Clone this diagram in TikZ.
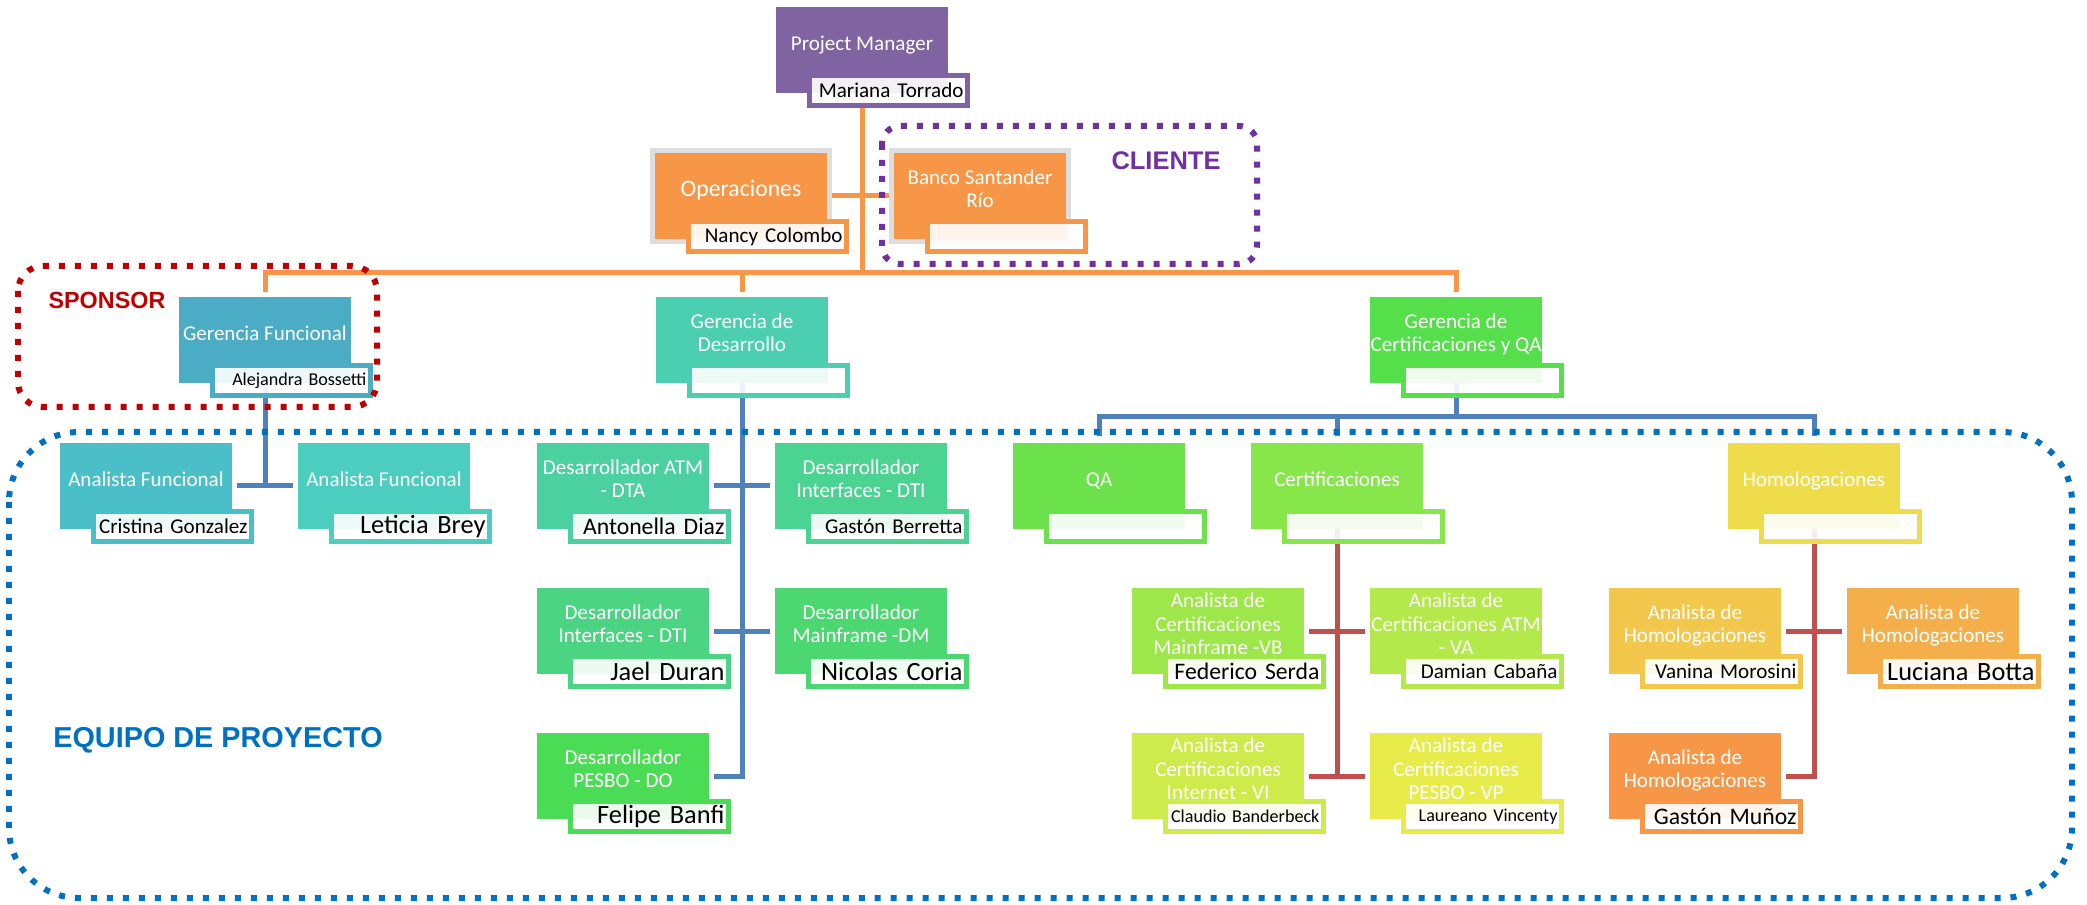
\documentclass[tikz,border=0pt]{standalone}
\usepackage{fontspec}
\setmainfont{Carlito}
\newfontfamily\tagfont{Liberation Sans}
\usepackage{xcolor}
\usepackage{tikz}
\usetikzlibrary{positioning, calc, backgrounds}
\definecolor{pmpurple}{HTML}{8064A2}
\definecolor{opsorange}{HTML}{F79646}
\definecolor{linkorange}{HTML}{F79646}
\definecolor{linkblue}{HTML}{4F81BD}
\definecolor{linkred}{HTML}{C0504D}
\definecolor{teamblue}{HTML}{0070C0}
\definecolor{sponsorred}{HTML}{C00000}
\definecolor{clientpurple}{HTML}{7030A0}
\definecolor{shadowgray}{HTML}{DEDEDE}
\definecolor{gfblue}{HTML}{4BACC6}
\definecolor{afone}{HTML}{4BBFC7}
\definecolor{aftwo}{HTML}{4BCDC0}
\definecolor{gdmint}{HTML}{4BCFB0}
\definecolor{devone}{HTML}{4BD19F}
\definecolor{devtwo}{HTML}{4BD392}
\definecolor{devthree}{HTML}{4BD482}
\definecolor{devfour}{HTML}{4BD870}
\definecolor{devfive}{HTML}{4BDC55}
\definecolor{gcgreen}{HTML}{55DF4B}
\definecolor{qagreen}{HTML}{6BE24B}
\definecolor{certgreen}{HTML}{86E64A}
\definecolor{acone}{HTML}{9DE74A}
\definecolor{actwo}{HTML}{B3E94B}
\definecolor{acthree}{HTML}{CDEB4B}
\definecolor{acfour}{HTML}{E7EC4B}
\definecolor{homyellow}{HTML}{EFDC4A}
\definecolor{ahone}{HTML}{F2C74B}
\definecolor{ahtwo}{HTML}{F4AF4A}
\definecolor{ahthree}{HTML}{F79646}

% role text, lifted a little above the box centre
\newcommand{\role}[1]{\begin{tabular}{@{}c@{}}#1\\[5pt]\end{tabular}}

\begin{document}
\begin{tikzpicture}[x=0.02cm, y=-0.02cm,
    unit/.style={rectangle, minimum width=3.44cm, minimum height=1.72cm, inner sep=0pt,
        outer sep=0pt, text=white, font=\fontsize{12}{13.3}\selectfont},
    shaded/.style={preaction={draw=shadowgray, line width=0.2cm}},
    who/.style={rectangle, draw=#1, line width=0.1cm, fill=white, fill opacity=0.9,
        text opacity=1, text=black, minimum width=3.16cm, minimum height=0.6cm,
        text width=3.0cm, align=right, inner xsep=0.08cm, inner ysep=0pt, outer sep=0pt,
        execute at begin node={\hyphenpenalty=10000},
        font=\fontsize{12}{13}\selectfont},
    name of/.style={anchor=south east, at={([xshift=0.39cm, yshift=-0.25cm]#1.south east)}},
    big/.style={font=\fontsize{15}{16}\selectfont},
    mid/.style={font=\fontsize{13.5}{14}\selectfont},
    small/.style={font=\fontsize{10.3}{11}\selectfont},
    link/.style={line width=0.1cm},
    gap/.style={shorten <=0.11cm, shorten >=0.11cm},
    frame/.style={line width=0.12cm, dash pattern=on 0.12cm off 0.2cm},
    tag/.style={font=\tagfont\bfseries\fontsize{#1}{#1}\selectfont, inner sep=0pt}]
    \useasboundingbox (0,0) rectangle (2087,905);

    % ── TOP: PROJECT MANAGER ──────────────────────────────────────────
    \node[unit, fill=pmpurple] (pm) at (862,50) {\role{Project Manager}};
    \node[who=pmpurple, name of=pm] (pm-n) {Mariana Torrado};

    \node[unit, shaded, fill=opsorange, font=\fontsize{13.5}{15}\selectfont] (ops) at (741,196) {\role{Operaciones}};
    \node[who=opsorange, name of=ops] (ops-n) {Nancy Colombo};
    \node[unit, shaded, fill=opsorange] (bank) at (980,196) {\role{Banco Santander\\Río}};
    \node[who=opsorange, name of=bank] (bank-n) {};

    % ── GERENCIAS ─────────────────────────────────────────────────────
    \node[unit, fill=gfblue] (gf) at (265,340) {\role{Gerencia Funcional}};
    \node[who=gfblue, name of=gf, small] (gf-n) {Alejandra Bossetti};
    \node[unit, fill=gdmint] (gd) at (742,340) {\role{Gerencia de\\Desarrollo}};
    \node[who=gdmint, name of=gd] (gd-n) {};
    \node[unit, fill=gcgreen] (gc) at (1456,340) {\role{Gerencia de\\Certificaciones y QA}};
    \node[who=gcgreen, name of=gc] (gc-n) {};

    % ── FUNCIONAL ─────────────────────────────────────────────────────
    \node[unit, fill=afone] (af1) at (146,486) {\role{Analista Funcional}};
    \node[who=afone, name of=af1] (af1-n) {Cristina Gonzalez};
    \node[unit, fill=aftwo] (af2) at (384,486) {\role{Analista Funcional}};
    \node[who=aftwo, name of=af2, big] (af2-n) {Leticia Brey};

    % ── DESARROLLO ────────────────────────────────────────────────────
    \node[unit, fill=devone] (dta) at (623,486) {\role{Desarrollador ATM\\- DTA}};
    \node[who=devone, name of=dta, mid] (dta-n) {Antonella Diaz};
    \node[unit, fill=devtwo] (dti1) at (861,486) {\role{Desarrollador\\Interfaces - DTI}};
    \node[who=devtwo, name of=dti1] (dti1-n) {Gastón Berretta};
    \node[unit, fill=devthree] (dti2) at (623,631) {\role{Desarrollador\\Interfaces - DTI}};
    \node[who=devthree, name of=dti2, big] (dti2-n) {Jael Duran};
    \node[unit, fill=devfour] (dm) at (861,631) {\role{Desarrollador\\Mainframe -DM}};
    \node[who=devfour, name of=dm, big] (dm-n) {Nicolas Coria};
    \node[unit, fill=devfive] (dpo) at (623,776) {\role{Desarrollador\\PESBO - DO}};
    \node[who=devfive, name of=dpo, big] (dpo-n) {Felipe Banfi};

    % ── CERTIFICACIONES Y QA ──────────────────────────────────────────
    \node[unit, fill=qagreen] (qa) at (1099,486) {\role{QA}};
    \node[who=qagreen, name of=qa] (qa-n) {};
    \node[unit, fill=certgreen] (cert) at (1337,486) {\role{Certificaciones}};
    \node[who=certgreen, name of=cert] (cert-n) {};
    \node[unit, fill=homyellow] (hom) at (1814,486) {\role{Homologaciones}};
    \node[who=homyellow, name of=hom] (hom-n) {};

    \node[unit, fill=acone] (vb) at (1218,631) {\role{Analista de\\Certificaciones\\Mainframe -VB}};
    \node[who=acone, name of=vb, mid] (vb-n) {Federico Serda};
    \node[unit, fill=actwo] (va) at (1456,631) {\role{Analista de\\Certificaciones ATM\\- VA}};
    \node[who=actwo, name of=va] (va-n) {Damian Cabaña};
    \node[unit, fill=acthree] (vi) at (1218,776) {\role{Analista de\\Certificaciones\\Internet - VI}};
    \node[who=acthree, name of=vi, small] (vi-n) {Claudio Banderbeck};
    \node[unit, fill=acfour] (vp) at (1456,776) {\role{Analista de\\Certificaciones\\PESBO - VP}};
    \node[who=acfour, name of=vp, small] (vp-n) {Laureano Vincenty};

    \node[unit, fill=ahone] (ah1) at (1695,631) {\role{Analista de\\Homologaciones}};
    \node[who=ahone, name of=ah1] (ah1-n) {Vanina Morosini};
    \node[unit, fill=ahtwo] (ah2) at (1933,631) {\role{Analista de\\Homologaciones}};
    \node[who=ahtwo, name of=ah2, big] (ah2-n) {Luciana Botta};
    \node[unit, fill=ahthree] (ah3) at (1695,776) {\role{Analista de\\Homologaciones}};
    \node[who=ahthree, name of=ah3, mid] (ah3-n) {Gastón Muñoz};

    % ── CONNECTORS ────────────────────────────────────────────────────
    \begin{scope}[on background layer]
        \coordinate (bus) at (862,273);
        \coordinate (qabus) at (1456,417);
        \draw[link, linkorange] (pm.south) -- (bus);
        \draw[link, linkorange] (ops) -- (bank);
        \draw[link, linkorange, gap] (gf.north) -- (gf.north |- bus) -- (gc.north |- bus) -- (gc.north);
        \draw[link, linkorange, shorten <=0.11cm] (gd.north) -- (gd.north |- bus);

        \draw[link, linkblue] (gf.south) -- (gf.south |- af1.east);
        \draw[link, linkblue, gap] (af1.east) -- (af2.west);
        \draw[link, linkblue, shorten >=0.1cm] (gd.south) -- (gd.south |- dpo.east) -- (dpo.east);
        \draw[link, linkblue, gap] (dta.east) -- (dti1.west);
        \draw[link, linkblue, gap] (dti2.east) -- (dm.west);
        \draw[link, linkblue] (gc.south) -- (qabus);
        \draw[link, linkblue, shorten <=0.14cm, shorten >=0.14cm] (qa.north) -- (qa.north |- qabus) -- (hom.north |- qabus) -- (hom.north);
        \draw[link, linkblue, shorten <=0.14cm] (cert.north) -- (cert.north |- qabus);

        \draw[link, linkred] (cert.south) -- (cert.south |- vp.west);
        \draw[link, linkred, gap] (vb.east) -- (va.west);
        \draw[link, linkred, gap] (vi.east) -- (vp.west);
        \draw[link, linkred, shorten >=0.1cm] (hom.south) -- (hom.south |- ah3.east) -- (ah3.east);
        \draw[link, linkred, gap] (ah1.east) -- (ah2.west);
    \end{scope}

    % ── GROUPS ────────────────────────────────────────────────────────
    \draw[frame, sponsorred, rounded corners=0.5cm] (18,266) rectangle (377,407);
    \draw[frame, clientpurple, rounded corners=0.36cm] (882,126) rectangle (1257,264);
    \draw[frame, teamblue, rounded corners=1.4cm] (9,432) rectangle (2072,898);
    \node[tag=13.3, sponsorred] (sponsor) at (107,300) {SPONSOR};
    \node[tag=14.5, clientpurple] (client) at (1166,161) {CLIENTE};
    \node[tag=16.4, teamblue] (team) at (218,740) {EQUIPO DE PROYECTO};
\end{tikzpicture}
\end{document}
